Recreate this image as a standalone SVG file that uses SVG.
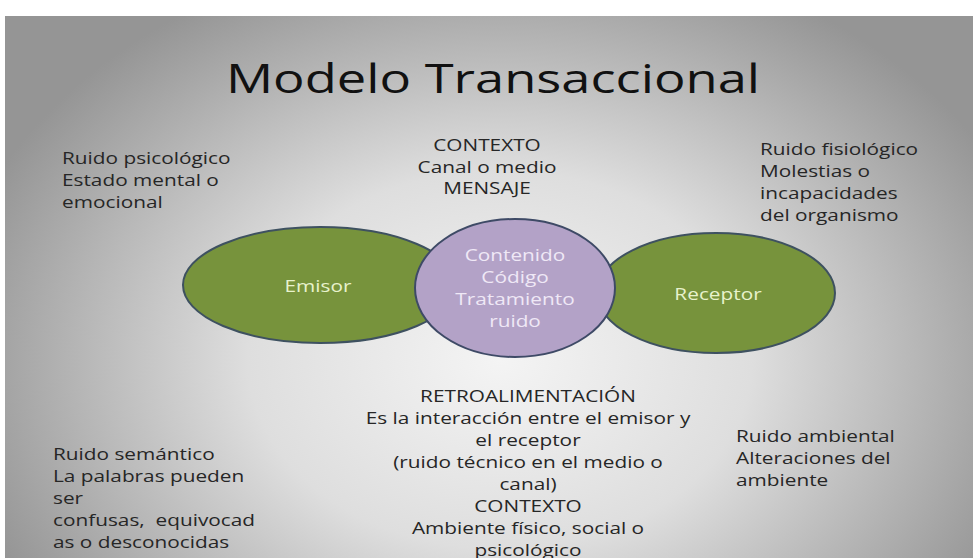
<svg xmlns="http://www.w3.org/2000/svg" width="973" height="558" viewBox="0 0 973 558">
<defs>
<radialGradient id="bg" cx="500" cy="360" r="560" gradientUnits="userSpaceOnUse" gradientTransform="translate(500 360) scale(1 0.75) translate(-500 -360)">
<stop offset="0" stop-color="#f4f4f4"/>
<stop offset="0.45" stop-color="#dedede"/>
<stop offset="1" stop-color="#959595"/>
</radialGradient>
<style>
.t{font-family:"Open Sans","Liberation Sans",sans-serif;font-size:16px;fill:#262626}
.c{text-anchor:middle}
.title{font-family:"Open Sans","Liberation Sans",sans-serif;font-size:41px;fill:#111;text-anchor:middle}
.green{fill:#77933c;stroke:#3e5160;stroke-width:2}
.purple{fill:#b3a2c7;stroke:#3e4a66;stroke-width:2}
.gt{font-family:"Open Sans","Liberation Sans",sans-serif;font-size:16px;fill:#e8f2cc;text-anchor:middle}
.pt{font-family:"Open Sans","Liberation Sans",sans-serif;font-size:16px;fill:#efe8f6;text-anchor:middle}
</style>
</defs>
<rect x="0" y="0" width="973" height="558" fill="#ffffff"/>
<rect x="5" y="16" width="968" height="542" fill="url(#bg)"/>
<text class="title" transform="translate(493 93) scale(1.28 1)">Modelo Transaccional</text>

<g id="psicologico">
<text class="t" transform="translate(62 164) scale(1.3 1)">Ruido psicológico</text>
<text class="t" transform="translate(62 186) scale(1.3 1)">Estado mental o</text>
<text class="t" transform="translate(62 208) scale(1.3 1)">emocional</text>
</g>
<g id="contexto-top">
<text class="t c" transform="translate(487 151) scale(1.3 1)">CONTEXTO</text>
<text class="t c" transform="translate(487 173) scale(1.3 1)">Canal o medio</text>
<text class="t c" transform="translate(487 194) scale(1.3 1)">MENSAJE</text>
</g>
<g id="fisiologico">
<text class="t" transform="translate(760 155) scale(1.3 1)">Ruido fisiológico</text>
<text class="t" transform="translate(760 177) scale(1.3 1)">Molestias o</text>
<text class="t" transform="translate(760 199) scale(1.3 1)">incapacidades</text>
<text class="t" transform="translate(760 221) scale(1.3 1)">del organismo</text>
</g>

<g id="connectors"></g>

<g id="emisor">
<ellipse class="green" cx="320" cy="285" rx="137" ry="58"/>
<text class="gt" transform="translate(318 292) scale(1.3 1)">Emisor</text>
</g>
<g id="receptor">
<ellipse class="green" cx="716" cy="293" rx="119" ry="60"/>
<text class="gt" transform="translate(718 300) scale(1.3 1)">Receptor</text>
</g>
<g id="mensaje">
<ellipse class="purple" cx="515" cy="288" rx="100" ry="69"/>
<text class="pt" transform="translate(515 261) scale(1.3 1)">Contenido</text>
<text class="pt" transform="translate(515 283) scale(1.3 1)">Código</text>
<text class="pt" transform="translate(515 305) scale(1.3 1)">Tratamiento</text>
<text class="pt" transform="translate(515 327) scale(1.3 1)">ruido</text>
</g>

<g id="retroalimentacion">
<text class="t c" transform="translate(528 402) scale(1.3 1)">RETROALIMENTACIÓN</text>
<text class="t c" transform="translate(528 424) scale(1.3 1)">Es la interacción entre el emisor y</text>
<text class="t c" transform="translate(528 446) scale(1.3 1)">el receptor</text>
<text class="t c" transform="translate(528 468) scale(1.3 1)">(ruido técnico en el medio o</text>
<text class="t c" transform="translate(528 490) scale(1.3 1)">canal)</text>
<text class="t c" transform="translate(528 512) scale(1.3 1)">CONTEXTO</text>
<text class="t c" transform="translate(528 534) scale(1.3 1)">Ambiente físico, social o</text>
<text class="t c" transform="translate(528 556) scale(1.3 1)">psicológico</text>
</g>
<g id="semantico">
<text class="t" transform="translate(53 460) scale(1.3 1)">Ruido semántico</text>
<text class="t" transform="translate(53 482) scale(1.3 1)">La palabras pueden</text>
<text class="t" transform="translate(53 504) scale(1.3 1)">ser</text>
<text class="t" transform="translate(53 526) scale(1.3 1)" xml:space="preserve">confusas,  equivocad</text>
<text class="t" transform="translate(53 548) scale(1.3 1)">as o desconocidas</text>
</g>
<g id="ambiental">
<text class="t" transform="translate(736 442) scale(1.3 1)">Ruido ambiental</text>
<text class="t" transform="translate(736 464) scale(1.3 1)">Alteraciones del</text>
<text class="t" transform="translate(736 486) scale(1.3 1)">ambiente</text>
</g>
</svg>
